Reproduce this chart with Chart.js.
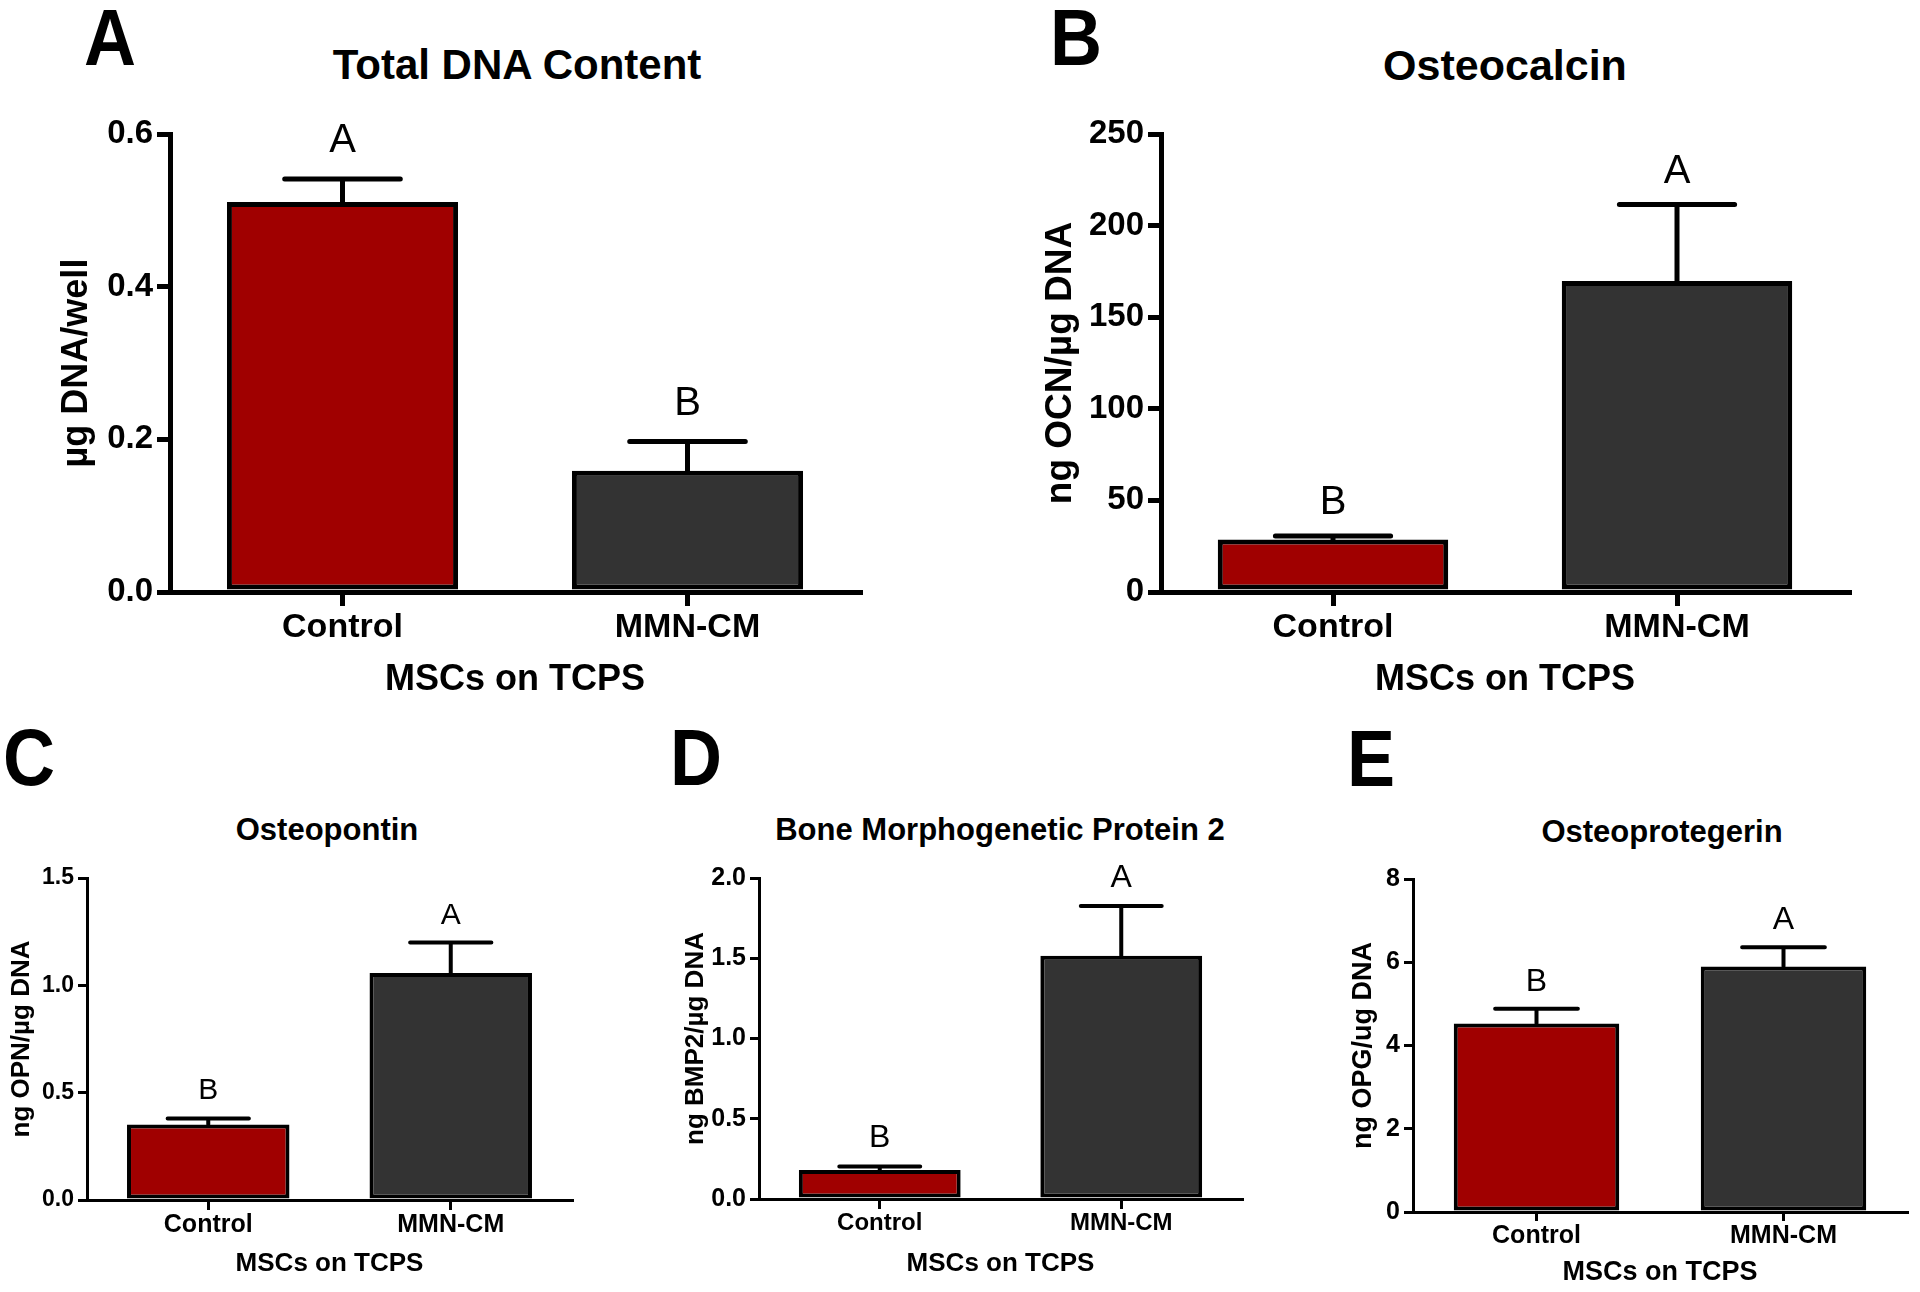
<!DOCTYPE html>
<html>
<head>
<meta charset="utf-8">
<title>MSCs on TCPS</title>
<script src="https://cdn.jsdelivr.net/npm/chart.js@4"></script>
<style>
  html,body{margin:0;padding:0;background:#fff;}
  body{width:1920px;height:1292px;position:relative;overflow:hidden;font-family:'Liberation Sans',Arial,sans-serif;}
  canvas{position:absolute;}
  .lbl{position:absolute;font-weight:bold;color:#000;line-height:1;white-space:nowrap;font-size:72px;transform:scaleY(1.1);transform-origin:0 0;}
  .ttl{position:absolute;font-weight:bold;color:#000;line-height:1;white-space:nowrap;transform:translate(-50%,-50%);}
</style>
</head>
<body>
<div class="lbl" style="left:84px;top:-2px">A</div>
<div class="lbl" style="left:1050px;top:-2px">B</div>
<div class="lbl" style="left:3px;top:718px">C</div>
<div class="lbl" style="left:670px;top:718px">D</div>
<div class="lbl" style="left:1347px;top:719px">E</div>

<div class="ttl" style="left:517px;top:65px;font-size:42px">Total DNA Content</div>
<div class="ttl" style="left:1505px;top:65px;font-size:43px">Osteocalcin</div>
<div class="ttl" style="left:327px;top:829px;font-size:31px">Osteopontin</div>
<div class="ttl" style="left:1000px;top:829px;font-size:31px">Bone Morphogenetic Protein 2</div>
<div class="ttl" style="left:1662px;top:831px;font-size:31px">Osteoprotegerin</div>

<canvas id="cA" width="900" height="602" style="left:0;top:100px"></canvas>
<canvas id="cB" width="900" height="602" style="left:1000px;top:100px"></canvas>
<canvas id="cC" width="620" height="429" style="left:0;top:850px"></canvas>
<canvas id="cD" width="640" height="429" style="left:640px;top:850px"></canvas>
<canvas id="cE" width="620" height="439" style="left:1300px;top:850px"></canvas>

<script>
const categories = ["Control", "MMN-CM"];
const xTitle = "MSCs on TCPS";

// A - total DNA
const dnaMean = [0.511, 0.159];
const dnaErr  = [0.541, 0.197];
const dnaSig  = ["A", "B"];
const dnaTicks = [0, 0.2, 0.4, 0.6];
const dnaTickLabels = ["0.0", "0.2", "0.4", "0.6"];

// B - osteocalcin
const ocnMean = [28.7, 169.8];
const ocnErr  = [30.5, 211.5];
const ocnSig  = ["B", "A"];
const ocnTicks = [0, 50, 100, 150, 200, 250];
const ocnTickLabels = ["0", "50", "100", "150", "200", "250"];

// C - osteopontin
const opnMean = [0.352, 1.058];
const opnErr  = [0.380, 1.199];
const opnSig  = ["B", "A"];
const opnTicks = [0, 0.5, 1.0, 1.5];
const opnTickLabels = ["0.0", "0.5", "1.0", "1.5"];

// D - BMP2
const bmpMean = [0.180, 1.515];
const bmpErr  = [0.203, 1.825];
const bmpSig  = ["B", "A"];
const bmpTicks = [0, 0.5, 1.0, 1.5, 2.0];
const bmpTickLabels = ["0.0", "0.5", "1.0", "1.5", "2.0"];

// E - osteoprotegerin
const opgMean = [4.53, 5.90];
const opgErr  = [4.88, 6.36];
const opgSig  = ["B", "A"];
const opgTicks = [0, 2, 4, 6, 8];
const opgTickLabels = ["0", "2", "4", "6", "8"];

const barColors = ["#a00000", "#333333"];
Chart.defaults.font.family = "'Liberation Sans', Arial, sans-serif";
Chart.defaults.color = "#000";

// error bars (upper only) + significance letters
const errPlugin = {
  id: "errbars",
  afterDatasetsDraw(chart, args, o) {
    const ctx = chart.ctx, ys = chart.scales.y;
    chart.getDatasetMeta(0).data.forEach((bar, i) => {
      const top = ys.getPixelForValue(o.err[i]);
      const half = bar.width / 4;
      ctx.save();
      ctx.strokeStyle = "#000";
      ctx.lineWidth = o.lw;
      ctx.lineCap = "round";
      ctx.beginPath();
      ctx.moveTo(bar.x, bar.y);
      ctx.lineTo(bar.x, top);
      ctx.moveTo(bar.x - half, top);
      ctx.lineTo(bar.x + half, top);
      ctx.stroke();
      ctx.fillStyle = "#000";
      ctx.font = o.sigSize + "px 'Liberation Sans', Arial, sans-serif";
      ctx.textAlign = "center";
      ctx.textBaseline = "alphabetic";
      ctx.fillText(o.sig[i], bar.x, top - o.gap);
      ctx.restore();
    });
  }
};

function makeChart(id, p) {
  const f = (s) => ({ size: s, weight: "bold" });
  return new Chart(document.getElementById(id), {
    type: "bar",
    data: {
      labels: categories,
      datasets: [{
        data: p.mean,
        backgroundColor: barColors,
        borderColor: "#000",
        borderWidth: p.lw,
        borderSkipped: false,
        barPercentage: 0.67,
        categoryPercentage: 1
      }]
    },
    options: {
      responsive: false,
      animation: false,
      devicePixelRatio: 1,
      layout: { padding: p.pad },
      plugins: {
        legend: { display: false },
        tooltip: { enabled: false },
        errbars: { err: p.err, sig: p.sig, lw: p.lw, gap: p.gap, sigSize: p.sigSize }
      },
      scales: {
        x: {
          grid: { offset: false, drawOnChartArea: false, drawTicks: true, tickLength: p.xtl, lineWidth: p.axw, color: "#000" },
          border: { display: true, color: "#000", width: p.axw },
          ticks: { color: "#000", font: f(p.xFont), padding: p.xpad, maxRotation: 0, autoSkip: false },
          title: { display: true, text: xTitle, color: "#000", font: f(p.xtFont), padding: 0 },
          afterFit: (s) => { s.height = p.xh; }
        },
        y: {
          min: 0,
          max: p.ticks[p.ticks.length - 1],
          afterBuildTicks: (s) => { s.ticks = p.ticks.map(v => ({ value: v })); },
          grid: { drawOnChartArea: false, drawTicks: true, tickLength: p.ytl, lineWidth: p.axw, color: "#000" },
          border: { display: true, color: "#000", width: p.axw },
          ticks: { color: "#000", font: f(p.yFont), padding: p.ypad, callback: (v, i) => p.tickLabels[i] },
          title: { display: true, text: p.yTitle, color: "#000", font: f(p.ytFont), padding: 0 },
          afterFit: (s) => { s.width = p.yw; }
        }
      }
    },
    plugins: [errPlugin]
  });
}

makeChart("cA", {
  mean: dnaMean, err: dnaErr, sig: dnaSig, ticks: dnaTicks, tickLabels: dnaTickLabels,
  yTitle: "\u00b5g DNA/well",
  pad: { left: 55, top: 34, right: 40, bottom: 0 }, yw: 115, xh: 110,
  lw: 5, axw: 5, xtl: 14, ytl: 13, xpad: 1, ypad: 4,
  xFont: 34, xtFont: 36, yFont: 33, ytFont: 36, sigSize: 40, gap: 27
});

makeChart("cB", {
  mean: ocnMean, err: ocnErr, sig: ocnSig, ticks: ocnTicks, tickLabels: ocnTickLabels,
  yTitle: "ng OCN/\u00b5g DNA",
  pad: { left: 39, top: 34, right: 51, bottom: 0 }, yw: 122, xh: 110,
  lw: 5, axw: 5, xtl: 14, ytl: 13, xpad: 1, ypad: 4,
  xFont: 34, xtFont: 36, yFont: 33, ytFont: 37, sigSize: 40, gap: 22
});

makeChart("cC", {
  mean: opnMean, err: opnErr, sig: opnSig, ticks: opnTicks, tickLabels: opnTickLabels,
  yTitle: "ng OPN/\u00b5g DNA",
  pad: { left: 6, top: 28, right: 48, bottom: 0 }, yw: 81, xh: 79,
  lw: 4, axw: 3, xtl: 10, ytl: 9, xpad: 0, ypad: 4,
  xFont: 25, xtFont: 26, yFont: 23, ytFont: 26, sigSize: 30, gap: 19
});

makeChart("cD", {
  mean: bmpMean, err: bmpErr, sig: bmpSig, ticks: bmpTicks, tickLabels: bmpTickLabels,
  yTitle: "ng BMP2/\u00b5g DNA",
  pad: { left: 40, top: 28, right: 38, bottom: 0 }, yw: 79, xh: 80,
  lw: 4, axw: 3, xtl: 10, ytl: 9, xpad: 0, ypad: 4,
  xFont: 24, xtFont: 26, yFont: 25, ytFont: 26, sigSize: 32, gap: 19
});

makeChart("cE", {
  mean: opgMean, err: opgErr, sig: opgSig, ticks: opgTicks, tickLabels: opgTickLabels,
  yTitle: "ng OPG/ug DNA",
  pad: { left: 47, top: 29, right: 13, bottom: 0 }, yw: 66, xh: 77,
  lw: 4, axw: 3, xtl: 9, ytl: 9, xpad: 0, ypad: 4,
  xFont: 25, xtFont: 27, yFont: 25, ytFont: 27, sigSize: 32, gap: 18
});
</script>
</body>
</html>
